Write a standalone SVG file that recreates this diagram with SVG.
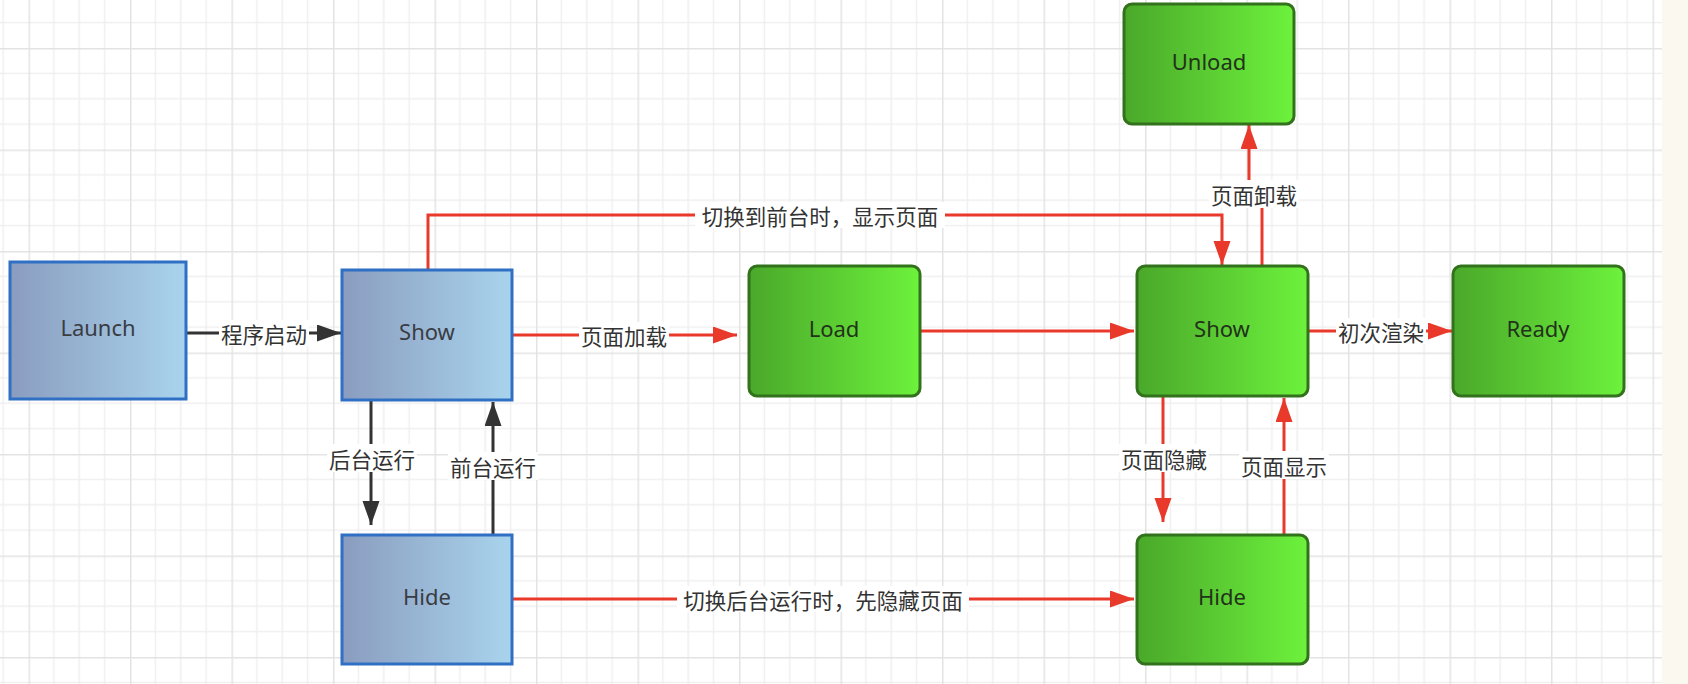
<svg xmlns="http://www.w3.org/2000/svg" width="1688" height="684" viewBox="0 0 1688 684">
<style>
.nt{font-family:"Noto Sans","Liberation Sans",sans-serif;font-size:22px;text-anchor:middle;dominant-baseline:central}
.bt{fill:#3a3c44}
.gt{fill:#22331a}
.lb{font-family:"Noto Sans CJK SC","Noto Sans",sans-serif;font-size:21.5px;fill:#333;text-anchor:middle;dominant-baseline:central}
.lbg{fill:#fff}
.blue{fill:url(#gb);stroke:#2f6fc4;stroke-width:3}
.green{fill:url(#gg);stroke:#33721c;stroke-width:3}
.ck{fill:none;stroke:#333;stroke-width:3}
.cr{fill:none;stroke:#e8392a;stroke-width:3}
</style>
<defs>
<linearGradient id="gb" x1="0" y1="0" x2="1" y2="0"><stop offset="0" stop-color="#8a9cbf"/><stop offset="1" stop-color="#a9d4ed"/></linearGradient>
<linearGradient id="gg" x1="0" y1="0" x2="1" y2="0"><stop offset="0" stop-color="#4aa82a"/><stop offset="1" stop-color="#6df23c"/></linearGradient>
<pattern id="grid" x="28.5" y="48" width="101.5" height="101.5" patternUnits="userSpaceOnUse">
<path d="M25.375,0V101.5M50.75,0V101.5M76.125,0V101.5M0,25.375H101.5M0,50.75H101.5M0,76.125H101.5" stroke="#efefef" stroke-width="1.5" fill="none"/>
<path d="M0.75,0V101.5M0,0.75H101.5" stroke="#e3e3e3" stroke-width="1.5" fill="none"/>
</pattern>
<marker id="ak" markerUnits="userSpaceOnUse" markerWidth="25" markerHeight="18" refX="24" refY="8.5" orient="auto"><path d="M0,0L24,8.5L0,17z" fill="#333"/></marker>
<marker id="ar" markerUnits="userSpaceOnUse" markerWidth="25" markerHeight="18" refX="24" refY="8.5" orient="auto"><path d="M0,0L24,8.5L0,17z" fill="#e8392a"/></marker>
</defs>
<rect x="0" y="0" width="1688" height="684" fill="#fff"/>
<rect x="0" y="0" width="1662" height="684" fill="url(#grid)"/>
<rect x="1662" y="0" width="26" height="684" fill="#fbf9ef"/>

<g id="connectors">
<path class="ck" d="M186,333H341" marker-end="url(#ak)"/>
<path class="ck" d="M371,400V525" marker-end="url(#ak)"/>
<path class="ck" d="M493,535V402" marker-end="url(#ak)"/>
<path class="cr" d="M512,335H737" marker-end="url(#ar)"/>
<path class="cr" d="M428,269V215H1222V265" marker-end="url(#ar)"/>
<path class="cr" d="M920,331H1134" marker-end="url(#ar)"/>
<path class="cr" d="M1308,331H1452" marker-end="url(#ar)"/>
<path class="cr" d="M1262,266V194H1249V125" marker-end="url(#ar)"/>
<path class="cr" d="M1163,396V522" marker-end="url(#ar)"/>
<path class="cr" d="M1284,535V398" marker-end="url(#ar)"/>
<path class="cr" d="M512,599H1134" marker-end="url(#ar)"/>
<g id="labels">
<rect class="lbg" x="219" y="320" width="90" height="26"/><text class="lb" x="264" y="333">程序启动</text>
<rect class="lbg" x="327" y="444" width="90" height="28"/><text class="lb" x="372" y="458">后台运行</text>
<rect class="lbg" x="448" y="452" width="90" height="28"/><text class="lb" x="493" y="466">前台运行</text>
<rect class="lbg" x="579" y="322" width="90" height="26"/><text class="lb" x="624" y="335">页面加载</text>
<rect class="lbg" x="695" y="202" width="250" height="26"/><text class="lb" x="820" y="215">切换到前台时，显示页面</text>
<rect class="lbg" x="1209" y="180" width="90" height="28"/><text class="lb" x="1254" y="194">页面卸载</text>
<rect class="lbg" x="1336" y="318" width="90" height="26"/><text class="lb" x="1381" y="331">初次渲染</text>
<rect class="lbg" x="1119" y="444" width="90" height="28"/><text class="lb" x="1164" y="458">页面隐藏</text>
<rect class="lbg" x="1239" y="451" width="90" height="28"/><text class="lb" x="1284" y="465">页面显示</text>
<rect class="lbg" x="677" y="586" width="292" height="26"/><text class="lb" x="823" y="599">切换后台运行时，先隐藏页面</text>
</g>
</g>

<g id="launch"><rect class="blue" x="10" y="262" width="176" height="137"/><text class="nt bt" x="98" y="327">Launch</text></g>
<g id="show1"><rect class="blue" x="342" y="270" width="170" height="130"/><text class="nt bt" x="427" y="331">Show</text></g>
<g id="hide1"><rect class="blue" x="342" y="535" width="170" height="129"/><text class="nt bt" x="427" y="596">Hide</text></g>
<g id="load"><rect class="green" x="749" y="266" width="171" height="130" rx="8"/><text class="nt gt" x="834" y="328">Load</text></g>
<g id="show2"><rect class="green" x="1137" y="266" width="171" height="130" rx="8"/><text class="nt gt" x="1222" y="328">Show</text></g>
<g id="ready"><rect class="green" x="1453" y="266" width="171" height="130" rx="8"/><text class="nt gt" x="1538" y="328">Ready</text></g>
<g id="unload"><rect class="green" x="1124" y="4" width="170" height="120" rx="8"/><text class="nt gt" x="1209" y="61">Unload</text></g>
<g id="hide2"><rect class="green" x="1137" y="535" width="171" height="129" rx="8"/><text class="nt gt" x="1222" y="596">Hide</text></g>
</svg>
